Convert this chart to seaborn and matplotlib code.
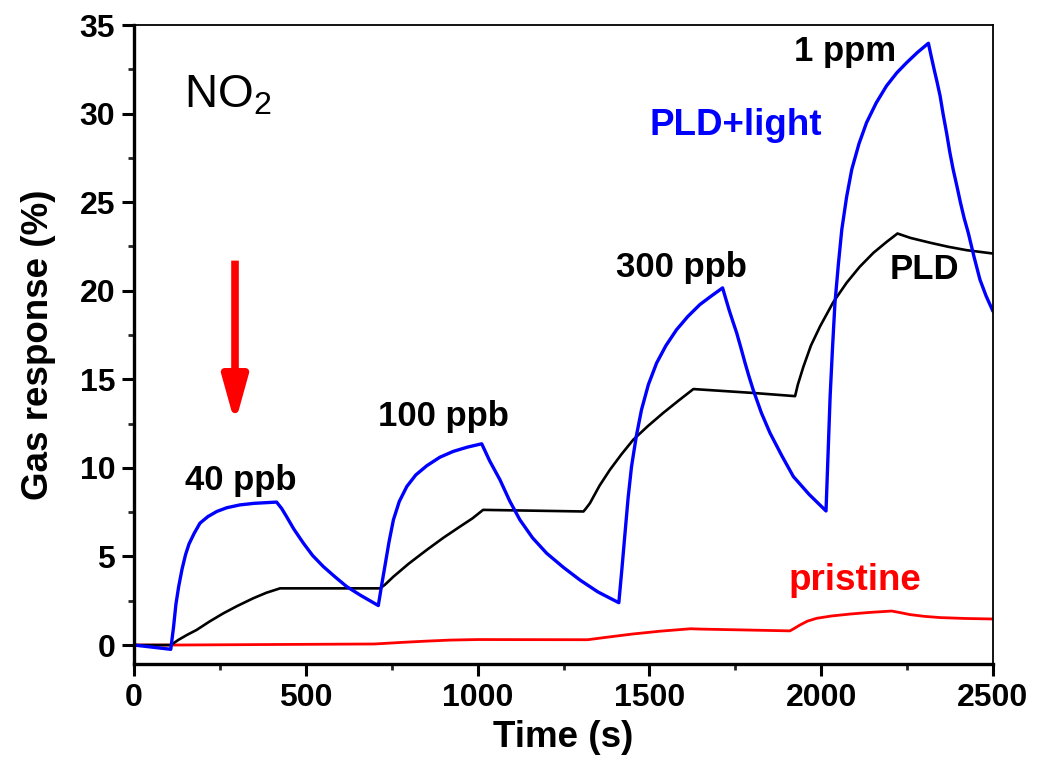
import numpy as np
import pandas as pd
import matplotlib
matplotlib.use("Agg")
import matplotlib.pyplot as plt
from matplotlib.ticker import MultipleLocator
import seaborn as sns

# ---------------- data ----------------
t_light = [0, 107, 115, 122, 130, 140, 150, 160, 175, 192, 215, 241, 270, 308, 350, 415,
           430, 444, 465, 493, 520, 551, 585, 619, 660, 711,
           720, 730, 742, 755, 772, 794, 820, 852, 890, 929, 970, 1012,
           1035, 1065, 1093, 1123, 1160, 1201, 1250, 1298, 1350, 1411,
           1420, 1429, 1438, 1448, 1462, 1477, 1497, 1521, 1548, 1579, 1612, 1647, 1680, 1713,
           1723, 1733, 1744, 1754, 1766, 1778, 1790, 1802, 1826, 1851, 1885, 1919, 1965, 2014,
           2020, 2026, 2033, 2040, 2050, 2060, 2074, 2089, 2110, 2132, 2160, 2190, 2220, 2249,
           2280, 2312,
           2320, 2328, 2337, 2346, 2355, 2365, 2374, 2384, 2395, 2405, 2416, 2428, 2445, 2462,
           2480, 2500]
v_light = [0.0, -0.24, 1.0, 2.3, 3.3, 4.3, 5.1, 5.7, 6.3, 6.88, 7.25, 7.54, 7.75, 7.91, 8.0, 8.07,
           7.7, 7.25, 6.55, 5.75, 5.05, 4.43, 3.85, 3.3, 2.8, 2.23,
           3.3, 4.43, 5.8, 7.07, 8.1, 8.95, 9.6, 10.12, 10.6, 10.93, 11.17, 11.36,
           10.4, 9.33, 8.15, 7.07, 6.05, 5.18, 4.38, 3.67, 3.0, 2.39,
           4.3, 6.31, 8.3, 10.08, 11.8, 13.28, 14.7, 15.92, 16.9, 17.8, 18.55, 19.22, 19.7, 20.16,
           19.5, 18.85, 18.2, 17.62, 16.8, 15.95, 15.15, 14.41, 13.1, 11.97, 10.7, 9.51, 8.5, 7.57,
           10.8, 14.04, 16.8, 19.3, 21.5, 23.46, 25.3, 26.85, 28.3, 29.49, 30.6, 31.56, 32.3, 32.88,
           33.45, 33.97,
           33.25, 32.55, 31.8, 31.0, 29.95, 28.9, 27.85, 26.85, 25.9, 25.0, 24.1, 23.27, 21.9, 20.63,
           19.7, 18.84]

t_pld = [0, 107, 130, 155, 182, 220, 260, 300, 347, 385, 425,
         716, 730, 755, 800, 852, 900, 949, 985, 1016,
         1308, 1315, 1327, 1355, 1385, 1418, 1453, 1495, 1540, 1585, 1628,
         1802, 1924, 1932, 1948, 1970, 1997, 2035, 2074, 2112, 2152, 2190, 2222,
         2260, 2317, 2370, 2423, 2500]
v_pld = [0.0, 0.0, 0.3, 0.58, 0.85, 1.33, 1.79, 2.2, 2.64, 2.95, 3.2,
         3.2, 3.4, 3.86, 4.6, 5.37, 6.05, 6.69, 7.15, 7.63,
         7.54, 7.7, 8.01, 9.0, 9.89, 10.75, 11.59, 12.35, 13.1, 13.8, 14.45,
         14.23, 14.05, 14.7, 15.7, 16.9, 18.0, 19.35, 20.45, 21.35, 22.14, 22.75, 23.23,
         22.98, 22.71, 22.48, 22.29, 22.1]

t_pristine = [0, 110, 400, 700, 780, 850, 920, 1000, 1320, 1380, 1450, 1530, 1620, 1650,
              1909, 1920, 1938, 1960, 1987, 2030, 2084, 2140, 2205, 2230, 2258, 2300,
              2346, 2420, 2500]
v_pristine = [0.0, 0.0, 0.03, 0.06, 0.15, 0.22, 0.28, 0.31, 0.3, 0.45, 0.62, 0.78, 0.92, 0.9,
              0.8, 0.92, 1.13, 1.35, 1.51, 1.64, 1.75, 1.84, 1.92, 1.83, 1.72, 1.62,
              1.55, 1.5, 1.47]

series_names = ["PLD+light", "PLD", "pristine"]
series_colors = ["#0000FF", "#000000", "#FF0000"]

conc_labels = ["40 ppb", "100 ppb", "300 ppb", "1 ppm"]
conc_x = [311, 902, 1592, 2069]
conc_y = [9.27, 12.9, 21.3, 33.5]

x_ticks = [0, 500, 1000, 1500, 2000, 2500]
y_ticks = [0, 5, 10, 15, 20, 25, 30, 35]

# ---------------- build frame ----------------
df = pd.concat([
    pd.DataFrame({"Time": t_light, "Response": v_light, "Sample": series_names[0]}),
    pd.DataFrame({"Time": t_pld, "Response": v_pld, "Sample": series_names[1]}),
    pd.DataFrame({"Time": t_pristine, "Response": v_pristine, "Sample": series_names[2]}),
], ignore_index=True)

# ---------------- style ----------------
sns.set_theme(style="ticks")
plt.rcParams["font.family"] = ["Liberation Sans", "DejaVu Sans"]
plt.rcParams["mathtext.fontset"] = "custom"
plt.rcParams["mathtext.rm"] = "Liberation Sans"
plt.rcParams["mathtext.it"] = "Liberation Sans:italic"
plt.rcParams["mathtext.bf"] = "Liberation Sans:bold"
plt.rcParams["text.color"] = "black"
plt.rcParams["axes.labelcolor"] = "black"

fig = plt.figure(figsize=(10.4, 7.63), dpi=100)
ax = fig.add_axes([134 / 1040, 99 / 763, 859 / 1040, 639 / 763])

lw_map = {"PLD+light": 2.4, "PLD": 1.9, "pristine": 2.0}
# draw order: pristine, PLD, PLD+light on top
for name, col in zip(series_names[::-1], series_colors[::-1]):
    sub = df[df["Sample"] == name]
    sns.lineplot(data=sub, x="Time", y="Response", color=col, lw=lw_map[name],
                 estimator=None, sort=False, ax=ax, legend=False)

ax.set_xlim(0, 2500)
ax.set_ylim(-1.07, 35)
ax.set_xticks(x_ticks)
ax.set_yticks(y_ticks)
ax.xaxis.set_minor_locator(MultipleLocator(250))
ax.yaxis.set_minor_locator(MultipleLocator(2.5))

ax.tick_params(axis="both", which="major", direction="out", length=8.5, width=2.2,
               labelsize=23, pad=5, colors="black")
ax.tick_params(axis="both", which="minor", direction="out", length=4.5, width=2.0)
for lab in ax.get_xticklabels() + ax.get_yticklabels():
    lab.set_fontweight("bold")

for side in ["left", "bottom"]:
    ax.spines[side].set_linewidth(2.4)
    ax.spines[side].set_color("black")
for side in ["top", "right"]:
    ax.spines[side].set_linewidth(1.3)
    ax.spines[side].set_color("black")
    ax.spines[side].set_visible(True)

ax.set_xlabel("Time (s)", fontsize=26.5, fontweight="bold", labelpad=5, color="black")
ax.set_ylabel("Gas response (%)", fontsize=26.5, fontweight="bold", labelpad=17,
              color="black")

# ---------------- annotations ----------------
for lab, x, y in zip(conc_labels, conc_x, conc_y):
    ax.text(x, y, lab, fontsize=25, fontweight="bold", color="black",
            ha="center", va="center")

ax.text(1752, 29.3, "PLD+light", fontsize=26.5, fontweight="bold", color="#0000FF",
        ha="center", va="center")
ax.text(2300, 21.2, "PLD", fontsize=25, fontweight="bold", color="black",
        ha="center", va="center")
ax.text(2097, 3.67, "pristine", fontsize=26.5, fontweight="bold", color="#FF0000",
        ha="center", va="center")
ax.text(274, 31.0, "NO$_2$", fontsize=33, color="black", ha="center", va="center")

ax.annotate("", xy=(294, 12.5), xytext=(294, 21.7),
            arrowprops=dict(arrowstyle="-|>,head_length=2.7,head_width=0.75",
                            color="#FF0000", lw=5.5, shrinkA=0, shrinkB=0,
                            mutation_scale=10, joinstyle="round", capstyle="butt"))

fig.savefig("out.png", dpi=100)
